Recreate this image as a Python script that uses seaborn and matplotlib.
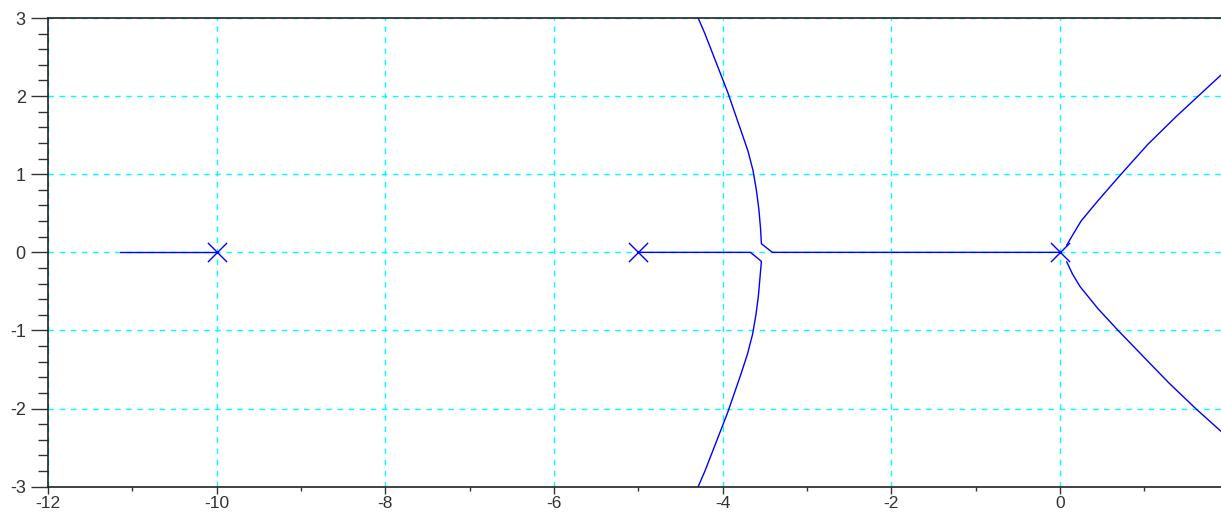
import matplotlib
matplotlib.use("Agg")
import matplotlib.pyplot as plt
import seaborn as sns
import numpy as np
from matplotlib.ticker import MultipleLocator

# Root locus branches
b_left_x = [-10.0, -11.15]
b_left_y = [0.0, 0.0]

b_mid_x = [-5.0, -3.67, -3.54, -3.555, -3.575, -3.605, -3.645, -3.705, -3.78, -3.86, -3.94, -4.03, -4.12, -4.21, -4.29]
b_mid_y = [0.0, 0.0, -0.115, -0.3, -0.55, -0.8, -1.05, -1.3, -1.55, -1.8, -2.05, -2.3, -2.55, -2.8, -3.0]

b_zero_x = [0.0, -3.41, -3.54, -3.55, -3.57, -3.60, -3.64, -3.70, -3.78, -3.86, -3.94, -4.03, -4.12, -4.21, -4.29]
b_zero_y = [0.0, 0.0, 0.11, 0.3, 0.55, 0.8, 1.05, 1.3, 1.55, 1.8, 2.05, 2.3, 2.55, 2.8, 3.0]

b_up_x = [0.08, 0.15, 0.25, 0.45, 0.70, 1.04, 1.38, 1.62, 1.92]
b_up_y = [0.09, 0.22, 0.40, 0.66, 0.97, 1.38, 1.74, 1.98, 2.28]

b_dn_x = [0.08, 0.15, 0.24, 0.45, 0.69, 1.03, 1.30, 1.62, 1.92]
b_dn_y = [-0.12, -0.28, -0.44, -0.72, -1.0, -1.38, -1.68, -2.01, -2.30]

pole_x = [-10.0, -5.0, 0.0]
pole_y = [0.0, 0.0, 0.0]

sns.set_style("white")
plt.rcParams['font.family'] = ['Liberation Sans', 'DejaVu Sans']

fig = plt.figure(figsize=(12.21, 5.12), dpi=100)
ax = fig.add_axes([48/1221, 25.3/512, 1 - 48/1221, (486.7-18)/512])

ax.set_xlim(-12, 1.91)
ax.set_ylim(-3, 3)

ax.xaxis.set_major_locator(MultipleLocator(2))
ax.xaxis.set_minor_locator(MultipleLocator(1))
ax.yaxis.set_major_locator(MultipleLocator(1))
ax.yaxis.set_minor_locator(MultipleLocator(0.2))

ax.grid(True, which='major', color='#00ffff', linestyle=(0, (4, 4)), linewidth=1.0)
ax.set_axisbelow(True)

for bx, by in [(b_left_x, b_left_y), (b_mid_x, b_mid_y), (b_zero_x, b_zero_y),
               (b_up_x, b_up_y), (b_dn_x, b_dn_y)]:
    sns.lineplot(x=bx, y=by, sort=False, estimator=None, color='#0000ff',
                 linewidth=1.0, ax=ax)

sns.scatterplot(x=pole_x, y=pole_y, marker='x', s=190, color='#0000ff',
                linewidth=1.0, ax=ax, zorder=5)

for side in ['left', 'bottom', 'top']:
    ax.spines[side].set_color('#222222')
    ax.spines[side].set_linewidth(1.2)
ax.spines['right'].set_visible(False)

ax.tick_params(axis='y', which='major', direction='out', length=12, width=1, color='#333333',
               labelsize=13, labelcolor='#333333', pad=4, left=True)
ax.tick_params(axis='y', which='minor', direction='out', length=7, width=1, color='#333333', left=True)
ax.tick_params(axis='x', which='major', direction='out', length=5, width=1, color='#333333',
               labelsize=12.5, labelcolor='#333333', pad=1.5, bottom=True)
ax.tick_params(axis='x', which='minor', direction='out', length=3, width=1, color='#333333', bottom=True)

ax.set_xticks(np.arange(-12, 1, 2))
ax.set_xticklabels([str(v) for v in range(-12, 1, 2)])
ax.set_yticks(np.arange(-3, 4, 1))
ax.set_yticklabels([str(v) for v in range(-3, 4, 1)])
ax.set_xlabel('')
ax.set_ylabel('')

fig.savefig('out.png', dpi=100)
